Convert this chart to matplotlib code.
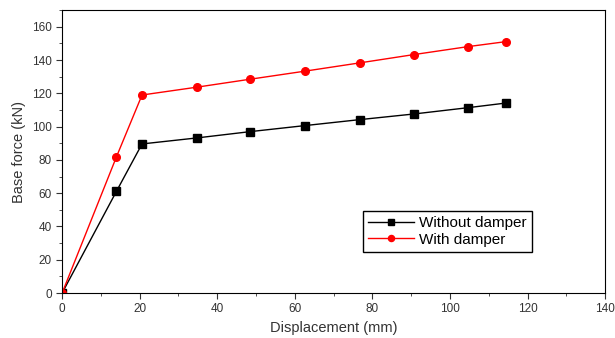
import matplotlib
matplotlib.use("Agg")
import matplotlib.pyplot as plt
from matplotlib.ticker import MultipleLocator

plt.rcParams.update({
    "font.family": ["Liberation Sans", "DejaVu Sans"],
    "font.size": 8.5,
})

# Displacement (mm) and base force (kN)
disp = [0, 14.0, 20.6, 34.7, 48.5, 62.5, 76.7, 90.7, 104.7, 114.5]
force_without = [0, 61.1, 89.6, 93.2, 97.0, 100.6, 104.2, 107.6, 111.4, 114.2]
force_with = [0, 81.8, 119.0, 123.7, 128.5, 133.3, 138.3, 143.3, 148.1, 151.1]

fig = plt.figure(figsize=(6.15, 3.38), dpi=100)
ax = fig.add_axes([0.101, 0.133, 0.883, 0.837])

ax.plot(disp, force_without, color="black", linewidth=1, marker="s", markersize=5.5,
        label="Without damper")
ax.plot(disp, force_with, color="red", linewidth=1, marker="o", markersize=5.5,
        label="With damper")

ax.set_xlim(0, 140)
ax.set_ylim(0, 170)
ax.xaxis.set_major_locator(MultipleLocator(20))
ax.xaxis.set_minor_locator(MultipleLocator(10))
ax.yaxis.set_major_locator(MultipleLocator(20))
ax.yaxis.set_minor_locator(MultipleLocator(10))
ax.tick_params(which="both", direction="out", colors="#333333", labelcolor="#333333")
ax.tick_params(which="major", length=4)
ax.tick_params(which="minor", length=2)

ax.set_xlabel("Displacement (mm)", fontsize=10.5, color="#333333", labelpad=4)
ax.set_ylabel("Base force (kN)", fontsize=10.5, color="#333333", labelpad=4)

leg = ax.legend(loc="lower left", bbox_to_anchor=(0.554, 0.145), borderaxespad=0,
                fontsize=11, frameon=True, fancybox=False, edgecolor="black",
                framealpha=1, handlelength=3, markerscale=0.8, borderpad=0.35,
                labelspacing=0.15, handletextpad=0.3)
leg.get_frame().set_linewidth(1)

fig.savefig("out.png", dpi=100, facecolor="white")
plt.close(fig)
